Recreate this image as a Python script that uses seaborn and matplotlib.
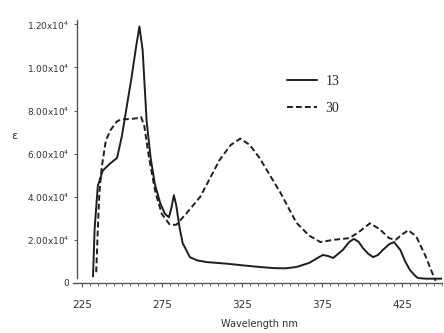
import numpy as np
import pandas as pd
import matplotlib
matplotlib.use("Agg")
import matplotlib.pyplot as plt
import seaborn as sns
from matplotlib.ticker import FixedLocator, MultipleLocator
from matplotlib.lines import Line2D

# Data (epsilon in units of 1e4)
wl_13 = [232, 233, 235, 238, 242, 247, 250, 252, 256, 259, 261, 263, 265.5, 268, 270.6,
         274, 277, 279.5, 281, 282.5, 284, 286, 288, 292.5, 297, 303, 315, 324, 335,
         345, 352, 359, 367, 372, 375.6, 379, 382, 388, 392, 395, 398, 400.6, 404,
         407, 410, 413, 417, 420, 424, 427, 430, 433, 435, 440, 450]
eps_13 = [0.3, 2.5, 4.5, 5.2, 5.5, 5.8, 6.8, 7.7, 9.5, 11.0, 11.9, 10.8, 7.5, 5.8, 4.6,
          3.7, 3.2, 3.05, 3.5, 4.07, 3.6, 2.6, 1.85, 1.2, 1.05, 0.97, 0.9, 0.83, 0.75,
          0.69, 0.68, 0.74, 0.93, 1.15, 1.3, 1.25, 1.16, 1.53, 1.9, 2.05, 1.9, 1.62, 1.35,
          1.2, 1.3, 1.53, 1.8, 1.9, 1.53, 1.0, 0.6, 0.35, 0.23, 0.2, 0.2]

wl_30 = [234, 235, 236, 237.5, 240, 243, 247, 250, 255, 260, 262, 264, 267, 271, 275,
         280, 284, 290, 299, 311, 318, 324, 330, 336, 349, 359, 367, 374, 382, 392,
         398, 405, 411, 417, 421, 425, 429, 434, 440, 444, 446]
eps_30 = [0.5, 2.5, 4.2, 5.4, 6.6, 7.1, 7.5, 7.6, 7.6, 7.65, 7.7, 7.3, 5.8, 4.2, 3.2,
          2.7, 2.7, 3.2, 4.0, 5.7, 6.4, 6.7, 6.4, 5.8, 4.2, 2.8, 2.2, 1.9, 2.0, 2.08,
          2.36, 2.77, 2.5, 2.08, 2.0, 2.25, 2.45, 2.15, 1.2, 0.45, 0.1]

labels = ["13", "30"]
y_ticks = [0, 2, 4, 6, 8, 10, 12]
y_ticklabels = ["0", "2.00x10$^4$", "4.00x10$^4$", "6.00x10$^4$", "8.00x10$^4$",
                "1.00x10$^4$", "1.20x10$^4$"]
x_ticklabels = [225, 275, 325, 375, 425]

df = pd.concat([
    pd.DataFrame({"wl": wl_13, "eps": eps_13, "compound": labels[0]}),
    pd.DataFrame({"wl": wl_30, "eps": eps_30, "compound": labels[1]}),
])

sns.set_style("white")
plt.rcParams["font.family"] = ["DejaVu Sans"]

fig = plt.figure(figsize=(4.44, 3.33), dpi=100)
ax = fig.add_axes([77/444, 50/333, 365/444, 263/333])

sns.lineplot(data=df, x="wl", y="eps", style="compound", ax=ax, color="#1e1e1e",
             linewidth=1.4, dashes={"13": "", "30": (3, 1.6)}, sort=False, legend=False)

ax.set_xlim(222, 450)
ax.set_ylim(0, 12.2)
for s in ["top", "right"]:
    ax.spines[s].set_visible(False)
for s in ["left", "bottom"]:
    ax.spines[s].set_color("#555555")
    ax.spines[s].set_linewidth(1.0)
ax.spines["bottom"].set_bounds(219.5, 450)
ax.spines["left"].set_bounds(0.25, 12.2)

ax.set_yticks(y_ticks)
ax.set_yticklabels(y_ticklabels, fontsize=6.5, color="#333333")
ax.xaxis.set_major_locator(FixedLocator(x_ticklabels))
ax.set_xticklabels([str(v) for v in x_ticklabels], fontsize=7.5, color="#333333")
ax.xaxis.set_minor_locator(MultipleLocator(5))
ax.tick_params(axis="x", which="major", direction="out", length=3, width=0.8,
               color="#555555", pad=9, bottom=True)
ax.tick_params(axis="x", which="minor", direction="out", length=1.8, width=0.6,
               color="#666666", bottom=True)
ax.tick_params(axis="y", which="major", direction="out", length=2.5, width=0.8,
               color="#555555", pad=3, left=True)

ax.set_xlabel("Wavelength nm", fontsize=7, color="#333333", labelpad=7)
ax.set_ylabel("ε", fontsize=8, color="#333333", rotation=0, labelpad=0)
ax.yaxis.set_label_coords(-0.172, 0.54)

handles = [Line2D([], [], color="#1e1e1e", lw=1.4),
           Line2D([], [], color="#1e1e1e", lw=1.4, dashes=(3, 1.6))]
ax.legend(handles, labels, loc="upper left", bbox_to_anchor=(0.54, 0.84),
          frameon=False, handlelength=2.2, handletextpad=0.6, labelspacing=1.05,
          prop={"family": "Liberation Serif", "size": 10})

fig.savefig("out.png", dpi=100, facecolor="white")
